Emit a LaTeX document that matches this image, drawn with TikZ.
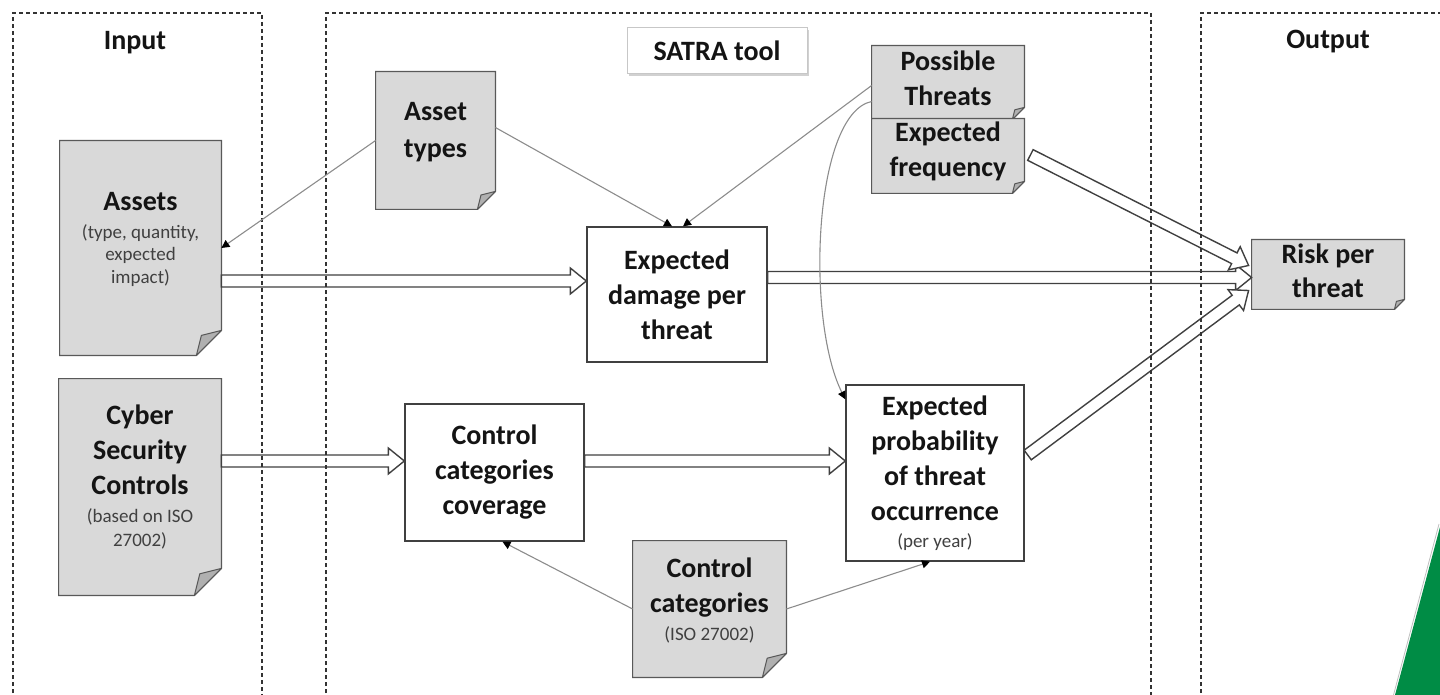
\documentclass[tikz,border=0pt]{standalone}
\usepackage{fontspec}
\setmainfont{Carlito}
\usetikzlibrary{calc,arrows.meta,shadows}
\definecolor{docfill}{HTML}{D9D9D9}
\definecolor{docline}{HTML}{595959}
\definecolor{foldfill}{HTML}{B0B0B0}
\definecolor{subgray}{HTML}{404040}
\definecolor{thingray}{HTML}{8C8C8C}
\definecolor{satragreen}{RGB}{0,140,69}
\newcommand{\subt}[1]{{\fontsize{9.5}{11.5}\selectfont\mdseries\color{subgray}#1}}
\newcommand{\docframe}[2]{%
  \draw[docfr] (#1.north west) -- (#1.north east) -- ($(#1.south east)+(0,-#2)$) -- ($(#1.south east)+(-#2,0)$) -- (#1.south west) -- cycle;
  \draw[foldst] ($(#1.south east)+(0,-#2)$) -- ($(#1.south east)+({-0.8*#2},{-0.8*#2})$) -- ($(#1.south east)+(-#2,0)$) -- cycle;}
\begin{document}
\begin{tikzpicture}[x=0.5pt,y=-0.5pt,
  big/.style={font=\bfseries\fontsize{14}{17.5}\selectfont, align=center, text=black!92},
  docshape/.style={inner sep=0pt, draw=none},
  docfr/.style={draw=docline, fill=docfill, line width=0.6pt},
  foldst/.style={draw=docline, fill=foldfill, line width=0.5pt, line join=round},
  procbox/.style={big, draw=black!75, fill=white, line width=0.7pt, inner sep=0pt},
  zone/.style={draw=black!80, line width=0.6pt, dash pattern=on 2pt off 1.5pt},
  thinarrow/.style={draw=thingray, line width=0.55pt, -{Triangle[length=4pt,width=4pt,color=black]}},
  satrabox/.style={big, draw=black!22, fill=white, line width=0.5pt, minimum width=90pt, minimum height=23pt,
    drop shadow={shadow xshift=0.8pt, shadow yshift=-1.2pt, opacity=0.3, fill=black!60}},
  hollow/.style={draw=black!75, fill=white, line width=0.7pt, line join=miter,
    to path={let \p1=(\tikztostart), \p2=(\tikztotarget),
      \n1={atan2(\y2-\y1,\x2-\x1)}, \n2={veclen(\x2-\x1,\y2-\y1)} in
      {[shift={(\p1)},rotate=\n1] (0pt,-3pt) -- (\n2-8pt,-3pt) -- (\n2-8pt,-6.5pt) -- (\n2,0pt) -- (\n2-8pt,6.5pt) -- (\n2-8pt,3pt) -- (0pt,3pt) -- cycle}}}
]
\useasboundingbox (0,0) rectangle (1440,695);

% document shapes
\node[docshape, minimum width=80.5pt, minimum height=107pt] (assets) at (140.5,248) {};
\node[docshape, minimum width=81pt, minimum height=108pt] (cyber) at (140,487) {};
\node[docshape, minimum width=59.5pt, minimum height=68.5pt] (types) at (435.5,140.5) {};
\node[docshape, minimum width=76pt, minimum height=36.5pt] (threats) at (948,82.5) {};
\node[docshape, minimum width=76pt, minimum height=37pt] (freq) at (948,156) {};
\node[docshape, minimum width=76pt, minimum height=34.5pt] (risk) at (1328,274.5) {};
\node[docshape, minimum width=76.5pt, minimum height=68pt] (cats) at (709.5,609) {};

\docframe{assets}{25}
\docframe{cyber}{27}
\docframe{types}{18}
\docframe{threats}{12}
\docframe{freq}{12}
\docframe{risk}{10}
\docframe{cats}{24}

% document texts
\node[big] (assetsT) at (140.5,239) {Assets\\[-3.5pt]\subt{(type, quantity,}\\[-6.25pt]\subt{expected}\\[-6.25pt]\subt{impact)}};
\node[big] (cyberT) at (140,477) {Cyber\\Security\\Controls\\[-3.5pt]\subt{(based on ISO}\\[-5.5pt]\subt{27002)}};
\node[big] (typesT) at (435.5,132) {Asset\\[1pt]types};
\node[big] (threatsT) at (948,78) {Possible\\Threats};
\node[big] (freqT) at (948,151) {Expected\\frequency};
\node[big] (riskT) at (1328,271) {Risk per\\[-0.5pt]threat};
\node[big] (catsT) at (709.5,600) {Control\\categories\\[-3.5pt]\subt{(ISO 27002)}};

% process boxes
\node[procbox, minimum width=90pt, minimum height=67.5pt] (dmg) at (677,294.5) {Expected\\damage per\\threat};
\node[procbox, minimum width=89.5pt, minimum height=68.5pt] (cov) at (494.5,472.5) {Control\\categories\\coverage};
\node[procbox, minimum width=89pt, minimum height=88pt] (prob) at (935,473) {Expected\\probability\\of threat\\occurrence\\[-4pt]\subt{(per year)}};

% labels
\node[big] (inlabel) at (135,43) {Input};
\node[big] (outlabel) at (1328,42) {Output};
\node[satrabox] (satra) at (717,51) {SATRA tool};

% hollow arrows
\coordinate (h1s) at ($(assets.east)+(0,33)$);
\coordinate (h1e) at (dmg.west |- h1s);
\coordinate (h2s) at ($(cyber.east)+(0,-26)$);
\coordinate (h2e) at (cov.west |- h2s);
\coordinate (h3s) at (cov.east |- h2s);
\coordinate (h3e) at (prob.west |- h2s);
\coordinate (h4s) at ($(dmg.east)+(0,-17)$);
\coordinate (h4e) at (risk.west |- h4s);
\coordinate (h5s) at ($(freq.east)+(6,-1)$);
\coordinate (h5e) at ($(risk.west)+(-3,-9)$);
\coordinate (h6s) at ($(prob.east)+(3,-18)$);
\coordinate (h6e) at ($(risk.west)+(-3,16)$);
\path[hollow] (h1s) to (h1e);
\path[hollow] (h2s) to (h2e);
\path[hollow] (h3s) to (h3e);
\path[hollow] (h4s) to (h4e);
\path[hollow] (h5s) to (h5e);
\path[hollow] (h6s) to (h6e);

% zones
\draw[zone] (13,700) -- (13,13) -- (262,13) -- (262,700);
\draw[zone] (326,700) -- (326,13) -- (1151,13) -- (1151,700);
\draw[zone] (1201,700) -- (1201,13) -- (1445,13);

% thin arrows
\coordinate (cs) at ($(threats.west)+(0,19)$);
\coordinate (ce) at ($(prob.north west)+(0,15)$);
\draw[thinarrow] (types.west) -- (assets.east);
\draw[thinarrow] ($(types.east)+(0,-13)$) -- ($(dmg.north)+(-5,0)$);
\draw[thinarrow] ($(threats.west)+(0,3)$) -- ($(dmg.north)+(6,0)$);
\draw[thinarrow] (cs) .. controls +(-58,12) and +(-40,-80) .. (ce);
\draw[thinarrow] (cats.west) -- ($(cov.south)+(8,0)$);
\draw[thinarrow] (cats.east) -- ($(prob.south)+(-5,0)$);

% green corner shape
\fill[satragreen] (1440,527) -- (1395,695) -- (1440,695) -- cycle;
\draw[black!25, line width=0.4pt] (1439,524) -- (1393.5,695);
\end{tikzpicture}
\end{document}
